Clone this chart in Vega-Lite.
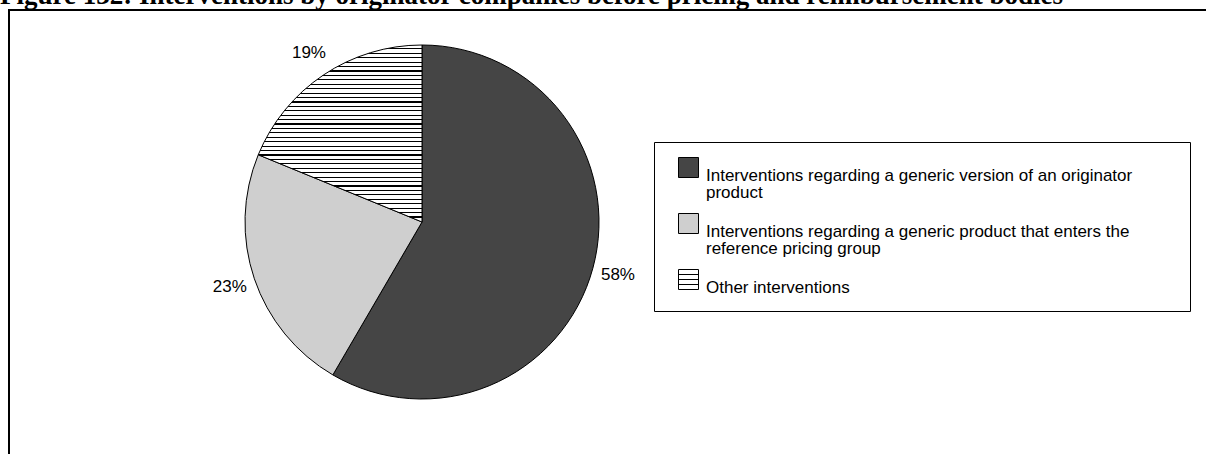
{
  "$schema": "https://vega.github.io/schema/vega-lite/v6.json",
  "autosize": {"type": "none"},
  "padding": {"left": 9, "top": 10, "right": 0, "bottom": 0},
  "width": 1200,
  "height": 450,
  "background": "white",
  "title": {
    "text": "Figure 132: Interventions by originator companies before pricing and reimbursement bodies",
    "font": "Liberation Serif",
    "fontSize": 27,
    "fontWeight": "bold",
    "color": "black",
    "anchor": "start",
    "frame": "group",
    "dx": -9,
    "offset": 0
  },
  "config": {
    "font": "Liberation Sans",
    "view": {"stroke": "black", "strokeWidth": 2}
  },
  "data": {
    "values": [
      {"category": "Interventions regarding a generic version of an originator product", "share": 0.584},
      {"category": "Interventions regarding a generic product that enters the reference pricing group", "share": 0.228},
      {"category": "Other interventions", "share": 0.188}
    ]
  },
  "encoding": {
    "theta": {"field": "share", "type": "quantitative", "stack": true},
    "order": {"field": "share", "type": "quantitative", "sort": "descending"},
    "x": {"value": 413},
    "y": {"value": 212}
  },
  "layer": [
    {
      "mark": {"type": "arc", "outerRadius": 177, "stroke": "black", "strokeWidth": 1},
      "encoding": {
        "fill": {
          "condition": {
            "test": "datum.category === 'Other interventions'",
            "value": {
              "gradient": "linear", "x1": 0, "y1": 0, "x2": 0, "y2": 1,
              "stops": [
                {"offset": 0, "color": "#ffffff"},
                {"offset": 0.0185, "color": "#ffffff"}, {"offset": 0.0185, "color": "#000000"}, {"offset": 0.025, "color": "#000000"}, {"offset": 0.025, "color": "#ffffff"},
                {"offset": 0.0435, "color": "#ffffff"}, {"offset": 0.0435, "color": "#000000"}, {"offset": 0.05, "color": "#000000"}, {"offset": 0.05, "color": "#ffffff"},
                {"offset": 0.0685, "color": "#ffffff"}, {"offset": 0.0685, "color": "#000000"}, {"offset": 0.075, "color": "#000000"}, {"offset": 0.075, "color": "#ffffff"},
                {"offset": 0.0935, "color": "#ffffff"}, {"offset": 0.0935, "color": "#000000"}, {"offset": 0.1, "color": "#000000"}, {"offset": 0.1, "color": "#ffffff"},
                {"offset": 0.1185, "color": "#ffffff"}, {"offset": 0.1185, "color": "#000000"}, {"offset": 0.125, "color": "#000000"}, {"offset": 0.125, "color": "#ffffff"},
                {"offset": 0.1435, "color": "#ffffff"}, {"offset": 0.1435, "color": "#000000"}, {"offset": 0.15, "color": "#000000"}, {"offset": 0.15, "color": "#ffffff"},
                {"offset": 0.1685, "color": "#ffffff"}, {"offset": 0.1685, "color": "#000000"}, {"offset": 0.175, "color": "#000000"}, {"offset": 0.175, "color": "#ffffff"},
                {"offset": 0.1935, "color": "#ffffff"}, {"offset": 0.1935, "color": "#000000"}, {"offset": 0.2, "color": "#000000"}, {"offset": 0.2, "color": "#ffffff"},
                {"offset": 0.2185, "color": "#ffffff"}, {"offset": 0.2185, "color": "#000000"}, {"offset": 0.225, "color": "#000000"}, {"offset": 0.225, "color": "#ffffff"},
                {"offset": 0.2435, "color": "#ffffff"}, {"offset": 0.2435, "color": "#000000"}, {"offset": 0.25, "color": "#000000"}, {"offset": 0.25, "color": "#ffffff"},
                {"offset": 0.2685, "color": "#ffffff"}, {"offset": 0.2685, "color": "#000000"}, {"offset": 0.275, "color": "#000000"}, {"offset": 0.275, "color": "#ffffff"},
                {"offset": 0.2935, "color": "#ffffff"}, {"offset": 0.2935, "color": "#000000"}, {"offset": 0.3, "color": "#000000"}, {"offset": 0.3, "color": "#ffffff"},
                {"offset": 0.3185, "color": "#ffffff"}, {"offset": 0.3185, "color": "#000000"}, {"offset": 0.325, "color": "#000000"}, {"offset": 0.325, "color": "#ffffff"},
                {"offset": 0.3435, "color": "#ffffff"}, {"offset": 0.3435, "color": "#000000"}, {"offset": 0.35, "color": "#000000"}, {"offset": 0.35, "color": "#ffffff"},
                {"offset": 0.3685, "color": "#ffffff"}, {"offset": 0.3685, "color": "#000000"}, {"offset": 0.375, "color": "#000000"}, {"offset": 0.375, "color": "#ffffff"},
                {"offset": 0.3935, "color": "#ffffff"}, {"offset": 0.3935, "color": "#000000"}, {"offset": 0.4, "color": "#000000"}, {"offset": 0.4, "color": "#ffffff"},
                {"offset": 0.4185, "color": "#ffffff"}, {"offset": 0.4185, "color": "#000000"}, {"offset": 0.425, "color": "#000000"}, {"offset": 0.425, "color": "#ffffff"},
                {"offset": 0.4435, "color": "#ffffff"}, {"offset": 0.4435, "color": "#000000"}, {"offset": 0.45, "color": "#000000"}, {"offset": 0.45, "color": "#ffffff"},
                {"offset": 0.4685, "color": "#ffffff"}, {"offset": 0.4685, "color": "#000000"}, {"offset": 0.475, "color": "#000000"}, {"offset": 0.475, "color": "#ffffff"},
                {"offset": 0.4935, "color": "#ffffff"}, {"offset": 0.4935, "color": "#000000"}, {"offset": 0.5, "color": "#000000"}, {"offset": 0.5, "color": "#ffffff"},
                {"offset": 0.5185, "color": "#ffffff"}, {"offset": 0.5185, "color": "#000000"}, {"offset": 0.525, "color": "#000000"}, {"offset": 0.525, "color": "#ffffff"},
                {"offset": 0.5435, "color": "#ffffff"}, {"offset": 0.5435, "color": "#000000"}, {"offset": 0.55, "color": "#000000"}, {"offset": 0.55, "color": "#ffffff"},
                {"offset": 0.5685, "color": "#ffffff"}, {"offset": 0.5685, "color": "#000000"}, {"offset": 0.575, "color": "#000000"}, {"offset": 0.575, "color": "#ffffff"},
                {"offset": 0.5935, "color": "#ffffff"}, {"offset": 0.5935, "color": "#000000"}, {"offset": 0.6, "color": "#000000"}, {"offset": 0.6, "color": "#ffffff"},
                {"offset": 0.6185, "color": "#ffffff"}, {"offset": 0.6185, "color": "#000000"}, {"offset": 0.625, "color": "#000000"}, {"offset": 0.625, "color": "#ffffff"},
                {"offset": 0.6435, "color": "#ffffff"}, {"offset": 0.6435, "color": "#000000"}, {"offset": 0.65, "color": "#000000"}, {"offset": 0.65, "color": "#ffffff"},
                {"offset": 0.6685, "color": "#ffffff"}, {"offset": 0.6685, "color": "#000000"}, {"offset": 0.675, "color": "#000000"}, {"offset": 0.675, "color": "#ffffff"},
                {"offset": 0.6935, "color": "#ffffff"}, {"offset": 0.6935, "color": "#000000"}, {"offset": 0.7, "color": "#000000"}, {"offset": 0.7, "color": "#ffffff"},
                {"offset": 0.7185, "color": "#ffffff"}, {"offset": 0.7185, "color": "#000000"}, {"offset": 0.725, "color": "#000000"}, {"offset": 0.725, "color": "#ffffff"},
                {"offset": 0.7435, "color": "#ffffff"}, {"offset": 0.7435, "color": "#000000"}, {"offset": 0.75, "color": "#000000"}, {"offset": 0.75, "color": "#ffffff"},
                {"offset": 0.7685, "color": "#ffffff"}, {"offset": 0.7685, "color": "#000000"}, {"offset": 0.775, "color": "#000000"}, {"offset": 0.775, "color": "#ffffff"},
                {"offset": 0.7935, "color": "#ffffff"}, {"offset": 0.7935, "color": "#000000"}, {"offset": 0.8, "color": "#000000"}, {"offset": 0.8, "color": "#ffffff"},
                {"offset": 0.8185, "color": "#ffffff"}, {"offset": 0.8185, "color": "#000000"}, {"offset": 0.825, "color": "#000000"}, {"offset": 0.825, "color": "#ffffff"},
                {"offset": 0.8435, "color": "#ffffff"}, {"offset": 0.8435, "color": "#000000"}, {"offset": 0.85, "color": "#000000"}, {"offset": 0.85, "color": "#ffffff"},
                {"offset": 0.8685, "color": "#ffffff"}, {"offset": 0.8685, "color": "#000000"}, {"offset": 0.875, "color": "#000000"}, {"offset": 0.875, "color": "#ffffff"},
                {"offset": 0.8935, "color": "#ffffff"}, {"offset": 0.8935, "color": "#000000"}, {"offset": 0.9, "color": "#000000"}, {"offset": 0.9, "color": "#ffffff"},
                {"offset": 0.9185, "color": "#ffffff"}, {"offset": 0.9185, "color": "#000000"}, {"offset": 0.925, "color": "#000000"}, {"offset": 0.925, "color": "#ffffff"},
                {"offset": 0.9435, "color": "#ffffff"}, {"offset": 0.9435, "color": "#000000"}, {"offset": 0.95, "color": "#000000"}, {"offset": 0.95, "color": "#ffffff"},
                {"offset": 0.9685, "color": "#ffffff"}, {"offset": 0.9685, "color": "#000000"}, {"offset": 0.975, "color": "#000000"}, {"offset": 0.975, "color": "#ffffff"},
                {"offset": 1, "color": "#ffffff"}
              ]
            }
          },
          "field": "category",
          "type": "nominal",
          "scale": {
            "domain": [
              "Interventions regarding a generic version of an originator product",
              "Interventions regarding a generic product that enters the reference pricing group",
              "Other interventions"
            ],
            "range": ["#454545", "#cfcfcf", "#ffffff"]
          },
          "legend": {
            "orient": "none",
            "legendX": 645,
            "legendY": 132,
            "title": null,
            "strokeColor": "black",
            "padding": 15,
            "symbolOffset": 9,
            "symbolType": "square",
            "symbolSize": 400,
            "symbolStrokeColor": "black",
            "symbolStrokeWidth": 1,
            "symbolOpacity": 1,
            "labelFont": "Liberation Sans",
            "labelFontSize": 17,
            "labelColor": "black",
            "labelLimit": 0,
            "labelOffset": 7,
            "labelBaseline": "top",
            "rowPadding": 10,
            "labelExpr": "datum.label === 'Interventions regarding a generic version of an originator product' ? ['Interventions regarding a generic version of an originator         \u200b', 'product'] : datum.label === 'Interventions regarding a generic product that enters the reference pricing group' ? ['Interventions regarding a generic product that enters the', 'reference pricing group'] : datum.label",
            "encode": {
              "labels": {
                "update": {"lineHeight": {"value": 17}}
              },
              "symbols": {
                "update": {
                  "stroke": {"value": "black"},
                  "strokeWidth": {"value": 1},
                  "shape": [
                    {"test": "datum.value === 'Other interventions'", "value": "M-1,-1H1V1H-1Z M-1,-0.5H1 M-1,0H1 M-1,0.5H1"},
                    {"value": "square"}
                  ]
                }
              }
            }
          }
        }
      }
    },
    {
      "mark": {"type": "text", "radius": 203, "font": "Liberation Sans", "fontSize": 17, "color": "black"},
      "encoding": {
        "text": {"field": "share", "type": "quantitative", "format": ".0%"}
      }
    }
  ]
}
